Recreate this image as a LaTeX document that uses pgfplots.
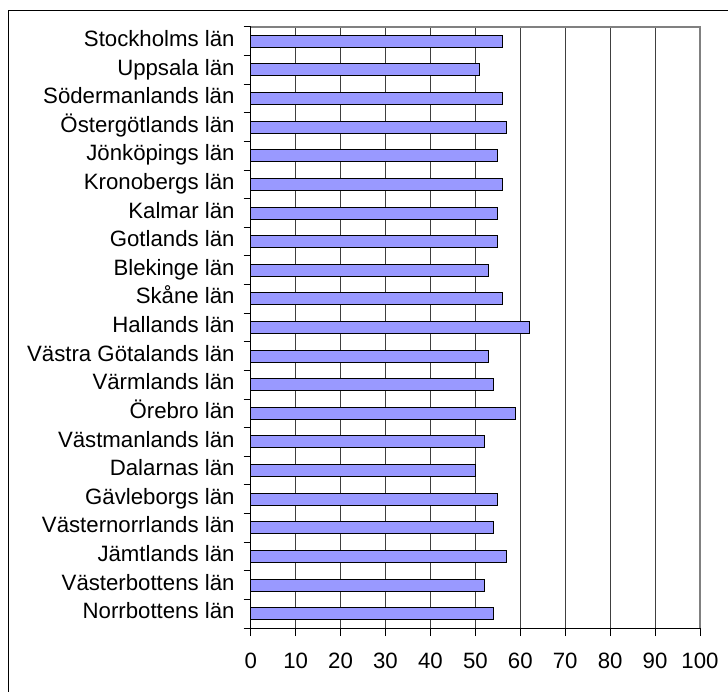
\documentclass[border=0pt]{standalone}
\usepackage{fontspec}
\setmainfont{Liberation Sans}
\usepackage{pgfplots}
\pgfplotsset{compat=1.18}
\definecolor{barfill}{HTML}{9999FF}

% counties, bottom (0) to top (20)
\pgfplotstableread{
y val
0  54
1  52
2  57
3  54
4  55
5  50
6  52
7  59
8  54
9  53
10 62
11 56
12 53
13 55
14 55
15 56
16 55
17 57
18 56
19 51
20 56
}\lanData

\begin{document}
\begin{tikzpicture}
\path[use as bounding box] (0pt,0pt) rectangle (364pt,345.5pt);
\draw[line width=0.5pt] (4pt,-10pt) -- (4pt,340pt) -- (380pt,340pt);
\begin{axis}[
    at={(125.35pt,31.5pt)}, anchor=south west,
    scale only axis,
    width=224.65pt, height=300.5pt,
    xbar, bar width=6pt,
    xmin=0, xmax=100,
    ymin=-0.5, ymax=20.5,
    axis x line*=bottom, axis y line*=left,
    axis line style={-, black, line width=0.5pt},
    xtick={0,10,...,100},
    ytick={0,...,20},
    yticklabels={Norrbottens län, Västerbottens län, Jämtlands län,
        Västernorrlands län, Gävleborgs län, Dalarnas län, Västmanlands län,
        Örebro län, Värmlands län, Västra Götalands län, Hallands län,
        Skåne län, Blekinge län, Gotlands län, Kalmar län, Kronobergs län,
        Jönköpings län, Östergötlands län, Södermanlands län, Uppsala län,
        Stockholms län},
    tick label style={font=\fontsize{11.1}{13}\selectfont, text=black},
    /pgf/number format/assume math mode=true,
    y tick label style={inner sep=0pt, xshift=-3.9pt, text height=0.72em, text depth=0.21em},
    x tick label style={inner sep=0pt, yshift=-8.5pt},
    ytick style={draw=none},
    xtick style={black, line width=0.5pt},
    tick align=outside,
    major tick length=4pt,
    extra y ticks={-0.5,0.5,...,20.5},
    extra y tick labels={},
    extra y tick style={ytick style={draw=black, line width=0.5pt}, major tick length=3.5pt},
    xmajorgrids,
    grid style={black!75, line width=0.5pt},
    clip=false,
]
\addplot[fill=barfill, draw=black, line width=0.5pt] table[x=val, y=y] {\lanData};
\draw[black!50, line width=0.6pt] (axis description cs:0,1) -- (axis description cs:1,1) -- (axis description cs:1,0);
\end{axis}
\end{tikzpicture}
\end{document}
